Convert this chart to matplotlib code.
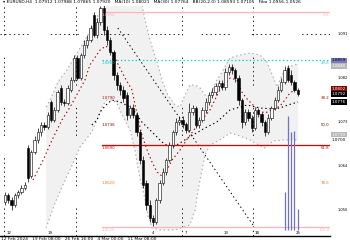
import matplotlib
matplotlib.use("Agg")
import matplotlib.pyplot as plt
import matplotlib.transforms as mtransforms
from matplotlib.patches import Rectangle

plt.rcParams['lines.scale_dashes'] = False

# candles, price in chart points
opens = [38, 45, 40, 35, 45, 48, 52, 92, 64, 88,
         100, 108, 115, 113, 138, 120, 130, 152, 138, 137,
         150, 160, 182, 162, 185, 195, 200, 225, 205, 218,
         232, 210, 200, 188, 165, 155, 150, 145, 125, 132,
         125, 108, 80, 57, 35, 22, 18, 40, 57, 68,
         80, 95, 108, 118, 120, 116, 110, 128, 132, 115,
         120, 130, 138, 145, 148, 154, 157, 153, 168, 173,
         170, 162, 140, 118, 128, 122, 112, 130, 126, 118,
         108, 122, 132, 140, 150, 158, 172, 165, 158, 150]
closes = [45, 40, 35, 45, 48, 52, 55, 62, 88, 100,
          108, 115, 113, 125, 120, 130, 148, 138, 137, 152,
          160, 182, 162, 185, 195, 200, 212, 205, 218, 232,
          210, 200, 188, 165, 155, 150, 142, 125, 132, 125,
          108, 80, 55, 35, 22, 18, 40, 57, 68, 80,
          95, 108, 118, 120, 116, 110, 128, 132, 115, 120,
          130, 138, 145, 148, 154, 157, 153, 168, 173, 170,
          162, 140, 118, 128, 122, 112, 130, 126, 118, 108,
          122, 132, 140, 150, 158, 170, 160, 158, 150, 146]
highs = [48, 47, 43, 47, 50, 55, 58, 95, 90, 104,
         112, 118, 118, 128, 140, 133, 150, 155, 141, 155,
         163, 185, 185, 187, 200, 205, 215, 228, 222, 234,
         235, 214, 203, 190, 168, 158, 154, 148, 135, 136,
         128, 110, 84, 60, 40, 25, 42, 60, 72, 82,
         98, 110, 122, 124, 124, 118, 137, 135, 134, 123,
         133, 142, 148, 152, 157, 160, 160, 172, 176, 176,
         172, 165, 142, 131, 131, 125, 132, 132, 128, 120,
         126, 134, 143, 154, 162, 174, 175, 170, 160, 152]
lows = [35, 37, 30, 33, 42, 46, 50, 58, 62, 86,
        97, 104, 110, 111, 118, 118, 128, 135, 134, 135,
        148, 158, 160, 160, 182, 192, 198, 203, 202, 215,
        205, 195, 185, 160, 150, 145, 138, 120, 122, 122,
        104, 76, 52, 30, 18, 14, 16, 37, 55, 65,
        78, 92, 105, 115, 112, 107, 108, 125, 112, 112,
        118, 127, 135, 142, 145, 150, 150, 150, 165, 166,
        158, 135, 112, 115, 119, 108, 110, 123, 114, 104,
        106, 120, 130, 138, 148, 156, 158, 155, 148, 144]

# envelope bands (bar index, level)
band_up_x = [12.5, 13.7, 16.1, 18.8, 21.9, 24.9, 28.0, 29.5, 31.9, 35.0, 39.5, 41.6,
             43.5, 45.0, 46.5, 47.7, 49.5, 51.7, 53.2, 54.7, 56.2, 57.8, 59.3, 60.8,
             62.3, 64.4, 66.0, 67.5, 68.4, 71.4, 74.5, 77.5, 79.6, 81.5, 82.7, 84.2,
             86.0, 89.1]
band_up = [133, 140, 158, 170, 187, 203, 223, 233, 238, 240, 240, 235,
           207, 190, 175, 160, 145, 135, 133, 145, 155, 155, 152, 145,
           145, 160, 168, 177, 182, 185, 187, 185, 178, 163, 153, 165,
           173, 176]
band_lo_x = [12.5, 15.2, 17.6, 20.7, 22.8, 26.4, 28.0, 29.8, 31.0, 32.5, 34.0, 35.9,
             38.0, 39.5, 41.0, 42.6, 43.5, 44.7, 47.1, 51.7, 56.2, 57.8, 58.7, 59.9,
             60.8, 62.3, 65.3, 68.4, 71.4, 74.5, 76.6, 79.0, 81.5, 84.5, 89.1]
band_lo = [12, 37, 55, 77, 93, 108, 120, 135, 140, 140, 137, 123,
           110, 90, 62, 40, 23, 12, 10, 10, 15, 30, 50, 70,
           85, 95, 100, 107, 104, 100, 96, 92, 99, 100, 100]

# fast average (dark red) and slow average (black)
ma_fast_x = [8.5, 11.6, 14.3, 17.3, 19.8, 21.3, 24.3, 25.8, 28.9, 30.7, 32.5, 34.0,
             36.5, 38.6, 40.4, 41.6, 43.2, 44.7, 46.2, 47.7, 49.2, 50.8, 53.2, 55.6,
             59.3, 62.3, 65.3, 68.4, 70.5, 72.0, 73.6, 75.1, 76.9, 79.0, 81.2, 83.6,
             85.1, 86.6, 89.1]
ma_fast = [60, 80, 100, 120, 133, 142, 160, 175, 190, 194, 188, 178,
           162, 150, 122, 105, 90, 78, 68, 64, 70, 80, 90, 102,
           118, 130, 150, 162, 160, 148, 141, 136, 130, 127, 130, 134,
           140, 147, 152]
ma_slow_x = [26.4, 28.0, 28.9, 30.7, 32.5, 35.0, 38.6, 41.6, 45.0, 47.7, 49.5, 51.7,
             53.2, 55.6, 60.8, 64.4, 68.4, 71.4, 73.6, 77.5, 81.5, 83.6, 86.0, 89.1]
ma_slow = [115, 120, 128, 135, 140, 138, 132, 118, 107, 98, 94, 94,
           97, 102, 112, 118, 130, 133, 135, 132, 131, 132, 135, 138]

# trend line from the top
trend_x = [34.3, 75.4]
trend_y = [212, 15]

# fibonacci retracement drawn from the peak
fib_start = 29.5
fib_pct = ["0.0", "23.6", "38.2", "50.0", "61.8", "78.6", "100.0"]
fib_lvl = [228, 180, 145, 118, 95, 60, 13]
fib_price = ["1.0956", "1.0860", "1.0790", "1.0736", "1.0690", "1.0620", "1.0526"]
fib_col = ['#ffb3c0', '#10d0d0', '#a01010', '#800000', '#e00000', '#ff6a1a', '#ffb3c0']
fib_ls = ['-', ':', None, None, '-', None, '-']

# histogram bars at the end
hist_x = [85, 86, 87, 88, 89]
hist_top = [48, 124, 108, 109, 31]
hist_base = 10

# axis texts
right_ticks = [206, 162, 118, 74, 30]
right_labels = ["1.091", "1.082", "1.073", "1.064", "1.056"]
grid_x = [-0.3, 21.6, 53.8, 75.4]
grid_y = [206]
date_marks_x = [0.6, 12.8, 44.7, 54.7, 66.3, 76.0, 88.4]
date_marks = ["12", "19", "4", "7", "13", "18", "25"]
tags = [(179.5, "1.0859", '#7b7bc4', 'black'),
        (174, "1.0848", '#b8b8b8', 'white'),
        (151, "1.0802", '#8b0000', 'white'),
        (146, "1.0792", 'black', 'white'),
        (138, "1.0776", 'black', 'white'),
        (105, "1.0710", '#b8b8b8', 'white'),
        (100, "1.0700", 'white', 'black')]

fig = plt.figure(figsize=(3.5, 2.4), dpi=100)
ax = fig.add_axes([0, 4 / 240, 330 / 350, 1 - 10 / 240])
ax.set_xlim(-1.52, 98.8)
ax.set_ylim(4, 234)

dots = (0, (1, 2))
gdash = (0, (1, 2.2, 1, 2.2, 1, 2.2, 1, 2.2, 1, 2.2, 1, 2.2, 1, 16))

poly_x = band_up_x + band_lo_x[::-1]
poly_y = band_up + band_lo[::-1]
ax.fill(poly_x, poly_y, color='#f1f1f1', lw=0, zorder=1)
ax.plot(band_up_x, band_up, color='#a8a8a8', lw=0.8, ls=dots, zorder=2)
ax.plot(band_lo_x, band_lo, color='#a8a8a8', lw=0.8, ls=dots, zorder=2)

for gx in grid_x:
    ax.axvline(gx, color='black', lw=0.6, ls=gdash, zorder=2)
for gy in grid_y:
    ax.axhline(gy, color='black', lw=0.6, ls=gdash, zorder=2)

ax.plot(trend_x, trend_y, color='black', lw=0.7, ls=dots, zorder=3)
ax.plot(ma_fast_x, ma_fast, color='#a00000', lw=0.8, ls=dots, zorder=3)
ax.plot(ma_slow_x, ma_slow, color='black', lw=0.8, ls=dots, zorder=3)

for lvl, col, ls in zip(fib_lvl, fib_col, fib_ls):
    if ls:
        ax.plot([fib_start, 98.8], [lvl, lvl], color=col, lw=0.9, ls=ls, zorder=3)
for lvl, pct, pr, col in zip(fib_lvl, fib_pct, fib_price, fib_col):
    ax.text(fib_start, lvl - 1, pr, color=col, fontsize=2.8, va='top', ha='left', zorder=6)
    ax.text(98.6, lvl - 1, pct, color=col, fontsize=2.8, va='top', ha='right', zorder=6)

ax.vlines(hist_x, hist_base, hist_top, color='#7070c8', lw=0.9, zorder=4)

w = 0.7
for i, (o, h, l, c) in enumerate(zip(opens, highs, lows, closes)):
    ax.vlines(i, l, h, color='black', lw=0.5, zorder=5)
    face = 'white' if c >= o else 'black'
    ax.add_patch(Rectangle((i - w / 2, min(o, c)), w, max(abs(c - o), 0.6),
                           facecolor=face, edgecolor='black', lw=0.4, zorder=5))

for xm, lab in zip(date_marks_x, date_marks):
    ax.text(xm, 5, lab, fontsize=2.8, ha='left', va='bottom', zorder=6)

for s in ['top', 'right', 'left']:
    ax.spines[s].set_visible(False)
ax.spines['bottom'].set_linewidth(1.0)
ax.set_xticks([])
ax.set_yticks([])

tr = mtransforms.blended_transform_factory(ax.transAxes, ax.transData)
for t, lab in zip(right_ticks, right_labels):
    ax.text(1.024, t, lab, transform=tr, fontsize=2.6, va='center', ha='left', clip_on=False)
for t, lab, bg, fg in tags:
    ax.text(1.006, t, lab, transform=tr, fontsize=3, va='center', ha='left', color=fg,
            clip_on=False, bbox=dict(boxstyle='square,pad=0.15', fc=bg, ec='none'))

fig.text(0.008, 0.999, "\u25be EURUSD,H4  1.07912 1.07988 1.07865 1.07920   MA(10) 1.08021   MA(30) 1.07764"
         "   BB(20,2.0) 1.08593 1.07105   Fibo 1.0956-1.0526",
         fontsize=3.2, va='top', ha='left')
fig.text(0.003, 0.012, "12 Feb 2024   19 Feb 08:00   26 Feb 16:00   4 Mar 00:00   11 Mar 08:00",
         fontsize=3.2, va='top', ha='left')

fig.savefig("out.png", dpi=100, facecolor='white')
